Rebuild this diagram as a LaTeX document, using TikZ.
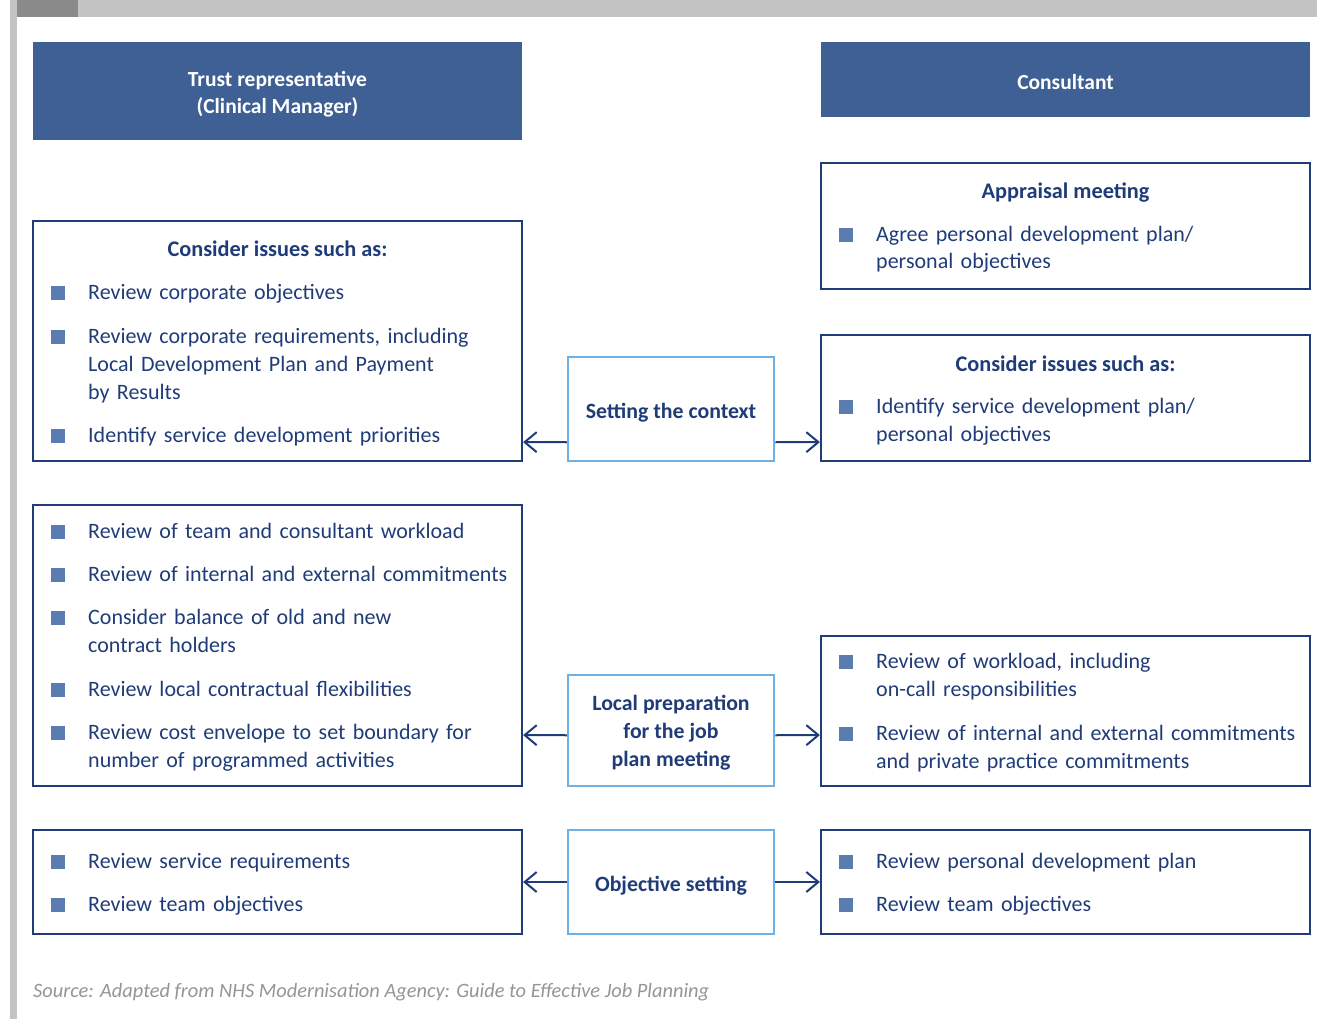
\documentclass[tikz,border=0pt]{standalone}
\usepackage{fontspec}
\setmainfont{Carlito}
\usepackage{xcolor}
\usepackage{tikz}
\usetikzlibrary{positioning,arrows.meta}
\definecolor{navy}{HTML}{1F3C78}
\definecolor{headblue}{HTML}{3F6094}
\definecolor{lysblaa}{HTML}{6FB1E4}
\definecolor{bulblue}{HTML}{5A7CB0}
\definecolor{bargray}{HTML}{C4C4C5}
\definecolor{tabgray}{HTML}{8A8A8B}
\definecolor{notegray}{HTML}{959595}
\newcommand{\bul}{\llap{\textcolor{bulblue}{\rule[-1pt]{14pt}{14pt}}\hspace{23pt}}}

\begin{document}
\begin{tikzpicture}[x=1pt,y=-1pt]
    \tikzset{
        box/.style={
            draw=navy,
            line width=2.2pt,
            minimum width=489pt,
            inner sep=0pt
        },
        head/.style={
            fill=headblue,
            minimum width=489pt,
            align=center,
            text=white,
            font=\fontsize{21.5}{27}\selectfont\bfseries
        },
        stage/.style={
            draw=lysblaa,
            line width=2.5pt,
            minimum width=206pt,
            align=center,
            text=navy,
            font=\fontsize{21.8}{28}\selectfont\bfseries
        },
        item/.style={
            anchor=base west,
            align=left,
            text width=430pt,
            inner sep=0pt,
            text=navy,
            font=\fontsize{22}{28}\selectfont
        },
        title/.style={
            anchor=base,
            inner sep=0pt,
            text=navy,
            font=\fontsize{22.3}{28}\selectfont\bfseries
        },
        arr/.style={
            draw=navy,
            line width=2pt,
            -{Straight Barb[length=12pt,width=20pt]}
        }
    }
    \useasboundingbox (0,0) rectangle (1317,1019);

    % Page frame
    \fill[bargray] (10,0) rectangle (1317,17);
    \fill[bargray] (10,0) rectangle (17,1019);
    \fill[tabgray] (17,0) rectangle (78,17);

    % Column heads
    \node[head, minimum height=98pt] (trust) at (277.5,91) {\rule{0pt}{22pt}Trust representative\\(Clinical Manager)};
    \node[head, minimum height=75pt] (cons) at (1065.5,79.5) {\rule{0pt}{19.5pt}Consultant};

    % Boxes
    \node[box, minimum height=240pt] (trustctx) at (277.5,341) {};
    \node[box, minimum height=126pt] (appr)     at (1065.5,226) {};
    \node[box, minimum height=126pt] (consctx)  at (1065.5,398) {};
    \node[box, minimum height=281pt] (trustprep) at (277.5,645.5) {};
    \node[box, minimum height=150pt] (consprep) at (1065.5,711) {};
    \node[box, minimum height=104pt] (trustobj) at (277.5,882) {};
    \node[box, minimum height=104pt] (consobj)  at (1065.5,882) {};

    % Stages in the middle
    \node[stage, minimum height=104pt] (ctx)  at (671,409) {\rule{0pt}{22pt}Setting the context};
    \node[stage, minimum height=111pt] (prep) at (671,730.5) {\rule{0pt}{20pt}Local preparation\\for the job\\plan meeting};
    \node[stage, minimum height=104pt] (obj)  at (671,882) {\rule{0pt}{22pt}Objective setting};

    % Box titles
    \node[title] (trustctxt) at (277.5,256) {Consider issues such as:};
    \node[title] (apprt)     at (1065.5,199) {Appraisal meeting};
    \node[title] (consctxt)  at (1065.5,371) {Consider issues such as:};

    % Bullet lists
    \foreach \y/\t [count=\i] in {299/Review corporate objectives,
            343/{Review corporate requirements, including\\Local Development Plan and Payment\\by Results},
            442/Identify service development priorities}
        \node[item] (trustctx\i) at (88,\y) {\bul\t};
    \node[item] (appr1) at (876,241) {\bul Agree personal development plan/\\personal objectives};
    \node[item] (consctx1) at (876,413) {\bul Identify service development plan/\\personal objectives};
    \foreach \y/\t [count=\i] in {538/Review of team and consultant workload,
            581/Review of internal and external commitments,
            624/{Consider balance of old and new\\contract holders},
            696/Review local contractual flexibilities,
            739/{Review cost envelope to set boundary for\\number of programmed activities}}
        \node[item] (trustprep\i) at (88,\y) {\bul\t};
    \foreach \y/\t [count=\i] in {668/{Review of workload, including\\on-call responsibilities},
            740/{Review of internal and external commitments\\and private practice commitments}}
        \node[item] (consprep\i) at (876,\y) {\bul\t};
    \foreach \y/\t [count=\i] in {868/Review service requirements, 911/Review team objectives}
        \node[item] (trustobj\i) at (88,\y) {\bul\t};
    \foreach \y/\t [count=\i] in {868/Review personal development plan, 911/Review team objectives}
        \node[item] (consobj\i) at (876,\y) {\bul\t};

    % Arrows out to both sides
    \draw[arr] ([yshift=20pt]ctx.south west) -- ([yshift=20pt]trustctx.south east);
    \draw[arr] ([yshift=20pt]ctx.south east) -- ([yshift=20pt]consctx.south west);
    \draw[arr] ([yshift=52pt]prep.south west) -- ([yshift=52pt]trustprep.south east);
    \draw[arr] ([yshift=52pt]prep.south east) -- ([yshift=52pt]consprep.south west);
    \draw[arr] (obj.west) -- (trustobj.east);
    \draw[arr] (obj.east) -- (consobj.west);

    % Source line
    \node[anchor=base west, inner sep=0pt, text=notegray, font=\fontsize{20.4}{24}\selectfont\itshape] (src) at (33,997)
        {Source: Adapted from NHS Modernisation Agency: Guide to Effective Job Planning};
\end{tikzpicture}
\end{document}
